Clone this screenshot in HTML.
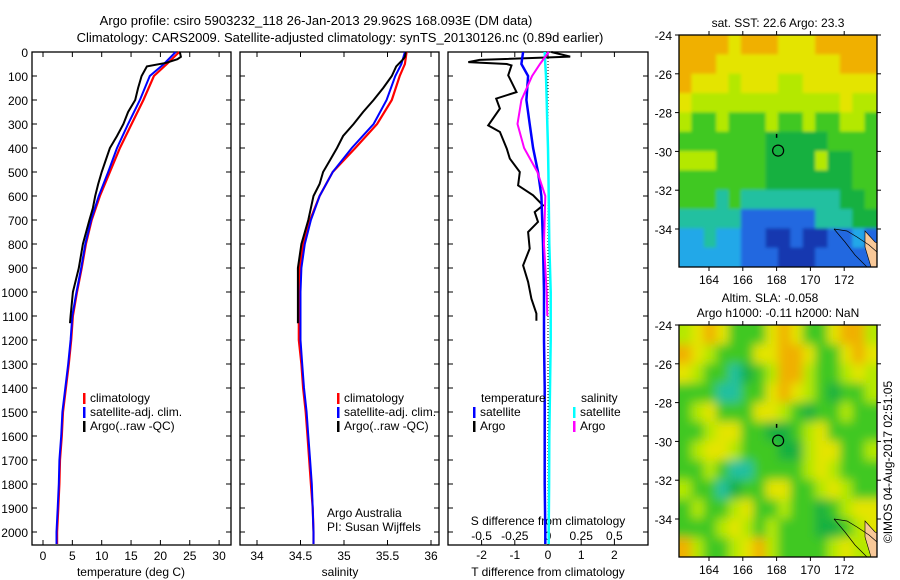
<!DOCTYPE html>
<html><head><meta charset="utf-8">
<style>
html,body{margin:0;padding:0;background:#fff;width:900px;height:580px;overflow:hidden}
svg{display:block;font-family:"Liberation Sans",sans-serif}
</style></head>
<body>
<svg id="c" width="900" height="580" viewBox="0 0 900 580">
<defs>
<filter id="blur" x="-5%" y="-5%" width="110%" height="110%"><feGaussianBlur stdDeviation="5"/></filter>
<filter id="blur2" x="-5%" y="-5%" width="110%" height="110%"><feGaussianBlur stdDeviation="1.5"/></filter>
<clipPath id="clip1"><rect x="679" y="35" width="198" height="232"/></clipPath>
<clipPath id="clip2"><rect x="679" y="325" width="198" height="232"/></clipPath>
</defs>
</svg>
<script>
// ---- data ----
const tDepth=[0,50,100,200,300,400,500,600,700,800,900,1000,1100,1200,1300,1400,1500,1600,1700,1800,1900,2000,2050];
const tClim=[23.2,21.1,18.9,17.1,15.1,13.1,11.4,9.7,8.3,7.3,6.6,5.8,5.1,4.8,4.4,3.9,3.4,3.2,2.9,2.8,2.6,2.4,2.4];
const tSat=[22.6,20.6,18.2,16.5,14.5,12.6,11.1,9.5,8.2,7.2,6.5,5.7,5.0,4.7,4.3,3.8,3.3,3.1,2.8,2.7,2.5,2.3,2.3];
const aDepth=[0,20,30,45,60,100,150,200,250,300,350,400,450,500,550,600,650,700,800,900,1000,1100,1130];
const tArgo=[23.3,23.5,22.9,21.0,17.7,16.8,16.2,15.7,14.5,13.7,12.6,11.4,10.7,10.0,9.4,8.9,8.5,7.9,6.8,6.1,5.1,4.7,4.6];
const sClim=[35.72,35.70,35.64,35.55,35.38,35.13,34.87,34.72,34.61,34.53,34.49,34.49,34.48,34.48,34.51,34.53,34.56,34.58,34.60,34.62,34.64,34.65,34.65];
const sSat=[35.70,35.66,35.59,35.49,35.34,35.09,34.87,34.72,34.62,34.55,34.51,34.50,34.50,34.50,34.52,34.54,34.57,34.59,34.61,34.63,34.64,34.65,34.65];
const sArgo=[35.71,35.70,35.68,35.64,35.60,35.55,35.45,35.34,35.22,35.11,34.99,34.92,34.84,34.76,34.72,34.65,34.62,34.59,34.51,34.47,34.47,34.47,34.47];
const dtDepth=[0,19,33,42,50,56,97,167,194,236,306,333,403,444,500,556,597,639,667,708,750,819,889,958,1028,1090,1120];
const dtArgo=[0.1,0.67,-2.06,-2.4,-1.24,-1.1,-1.2,-0.95,-1.56,-1.45,-1.8,-1.45,-1.24,-1.15,-0.85,-0.9,-0.45,-0.15,-0.4,-0.3,-0.6,-0.55,-0.75,-0.6,-0.5,-0.35,-0.35];
const dDepth=[0,50,100,200,300,400,500,600,800,1000,1200,1400,1600,1800,2000,2050];
const dtSat=[-0.75,-0.8,-0.6,-0.65,-0.55,-0.45,-0.3,-0.2,-0.15,-0.12,-0.12,-0.1,-0.1,-0.1,-0.08,-0.08];
const dsSat=[-0.025,-0.02,-0.015,-0.01,-0.005,0,0.003,0.005,0.01,0.02,0.02,0.015,0.01,0.008,0.005,0.005];
const dsArgo=[0.005,-0.06,-0.12,-0.2,-0.23,-0.18,-0.08,-0.02,-0.03,-0.01,-0.005];
const dsDepth=[0,50,100,200,300,400,500,600,800,1000,1100];
const depthTicks=[0,100,200,300,400,500,600,700,800,900,1000,1100,1200,1300,1400,1500,1600,1700,1800,1900,2000];
const tTicks=[0,5,10,15,20,25,30];
const sTicks=[34,34.5,35,35.5,36];
const dTicks=[-2,-1,0,1,2];
const sdTickLabels=["-0.5","-0.25","0","0.25","0.5"];
const latTicks=[-24,-26,-28,-30,-32,-34];
const lonTicks=[164,166,168,170,172];
const sstGrid=["OOOOYOOOYYYOOOOO","OOOYYYYYYYYYYOOO","OYYYLYYYLLYYYYYY","YLLLLLLLLLLLLYLL","LGGLGGGLGGLGGLLG","GGGGGGGDDDDDGGGG","LLLGGGGDDDDLDDGG","GGGGGGGDDDDDDDGG","GGGTGTTTTTTTTDDG","TTTTTBBBBBBTTTDD","CCTCCBBNNBNNBBCB","CCCCCBBBNNNBBBBB"];
const slaGrid=["LYOYGGGYOYGGYOOL","OYLGGGYYOOYGGYOY","YLGGTDGLOOLGGLYL","GGGTTGGYOYLGDGGL","GLYGGGYYLGDGGLGG","GGLYYGGDDGLYGGGG","GLYYLGGGDDLYYGGL","GGLGTTGGGGLYLGGG","LGGTDGGYYGGLYLGG","GLGGLYGGLGGDGLYY","GGGLYLGLGGGDDGLY","OLGGLYOLGGGGLYLL"];
const pal={O:"#f0b000",Y:"#e4e400",L:"#b4e800",G:"#40c820",D:"#18b040",T:"#20c0a0",C:"#20a8e8",B:"#2068e0",N:"#1438b0"};
// ---- helpers ----
const NS="http://www.w3.org/2000/svg", svg=document.getElementById('c');
function mk(t,a,p){const e=document.createElementNS(NS,t);for(const k in a)e.setAttribute(k,a[k]);(p||svg).appendChild(e);return e;}
function txt(x,y,s,anchor,size){const e=mk('text',{x:x,y:y,'font-size':size||12,'text-anchor':anchor||'middle',fill:'#000'});e.textContent=s;return e;}
const Y0=52,Y1=545; const yD=d=>52+d*0.24;
const xT=v=>43+v*5.87, xS=v=>257+(v-34)*87, xD=v=>548+v*33.2, xSD=v=>548+v*4*33.2;
function poly(xs,ds,fx,col,w,name){const pts=xs.map((v,i)=>fx(v).toFixed(1)+','+yD(ds[i]).toFixed(1)).join(' ');
 const e=mk('polyline',{points:pts,fill:'none',stroke:col,'stroke-width':w});
 
 }
// titles
let t=txt(316,25,"Argo profile: csiro 5903232_118 26-Jan-2013 29.962S 168.093E (DM data)",'middle',13);

t=txt(340,42,"Climatology: CARS2009. Satellite-adjusted climatology: synTS_20130126.nc (0.89d earlier)",'middle',13);

// panels
function panel(x0,x1,name){const g=mk('rect',{x:x0,y:Y0,width:x1-x0,height:Y1-Y0,fill:'none',stroke:'#000','stroke-width':1.3});
 
 depthTicks.forEach(d=>{mk('line',{x1:x0,x2:x0+5,y1:yD(d),y2:yD(d),stroke:'#000'});mk('line',{x1:x1-5,x2:x1,y1:yD(d),y2:yD(d),stroke:'#000'});});}
panel(32,231,'temperature-panel');panel(240,439,'salinity-panel');panel(448,648,'difference-panel');
depthTicks.forEach(d=>{const e=txt(28,yD(d)+5,String(d),'end',12);});
function xticks(vals,fx,labels,ly){vals.forEach((v,i)=>{const x=fx(v);mk('line',{x1:x,x2:x,y1:Y1,y2:Y1-5,stroke:'#000'});mk('line',{x1:x,x2:x,y1:Y0,y2:Y0+5,stroke:'#000'});
 const e=txt(x,ly,labels?labels[i]:String(v));});}
xticks(tTicks,xT,null,560);xticks(sTicks,xS,null,560);xticks(dTicks,xD,null,559);
dTicks.forEach((v,i)=>{const e=txt(xD(v),540,sdTickLabels[i]);});
t=txt(131,576,"temperature (deg C)");
t=txt(340,576,"salinity");
t=txt(548,576,"T difference from climatology");
t=txt(548,525,"S difference from climatology");
mk('line',{x1:548,x2:548,y1:Y0,y2:Y1,stroke:'#000','stroke-dasharray':'1,2'});
// series
poly(tClim,tDepth,xT,'#f00',2.2,'temp-climatology-line');
poly(tSat,tDepth,xT,'#00f',2,'temp-satellite-line');
poly(tArgo,aDepth,xT,'#000',2,'temp-argo-line');
poly(sClim,tDepth,xS,'#f00',2.2,'sal-climatology-line');
poly(sSat,tDepth,xS,'#00f',2,'sal-satellite-line');
poly(sArgo,aDepth,xS,'#000',2,'sal-argo-line');
poly(dtArgo,dtDepth,xD,'#000',2,'tdiff-argo-line');
poly(dtSat,dDepth,xD,'#00f',2.5,'tdiff-satellite-line');
poly(dsSat,dDepth,xSD,'#0ff',2.5,'sdiff-satellite-line');
poly(dsArgo,dsDepth,xSD,'#f0f',2,'sdiff-argo-line');
// legends
function leg(x,y,col,s,name){mk('rect',{x:x,y:y-9,width:2.5,height:11,fill:col});const e=txt(x+7,y,s,'start',12);}
leg(83,402,'#f00','climatology','legend-climatology');leg(83,416,'#00f','satellite-adj. clim.','legend-satellite-adj');leg(83,430,'#000','Argo(..raw -QC)','legend-argo');
leg(337,402,'#f00','climatology','legend2-climatology');leg(337,416,'#00f','satellite-adj. clim.','legend2-satellite-adj');leg(337,430,'#000','Argo(..raw -QC)','legend2-argo');
t=txt(481,402,'temperature','start');
t=txt(581,402,'salinity','start');
leg(473,416,'#00f','satellite','legend-t-satellite');leg(473,430,'#000','Argo','legend-t-argo');
leg(573,416,'#0ff','satellite','legend-s-satellite');leg(573,430,'#f0f','Argo','legend-s-argo');
t=txt(327,517,'Argo Australia','start');
t=txt(327,531,'PI: Susan Wijffels','start');
// maps
const xL=v=>709+(v-164)*16.9;
function map(top,grid,name,title1,title2,clip,filt){
 const yL=v=>top+(-24-v)*19.4; const x0=679,x1=877,bot=top+232;
 const outer=mk('g',{'clip-path':'url(#'+clip+')'});
 const g=mk('g',{filter:'url(#'+filt+')'},outer);
 const rows=grid.length,cols=grid[0].length,cw=(x1-x0)/cols,ch=(bot-top)/rows;
 grid.forEach((r,i)=>{for(let j=0;j<cols;j++){
   const ex=(j==0?-12:0),ey=(i==0?-12:0);
   mk('rect',{x:x0+j*cw+ex,y:top+i*ch+ey,width:cw+0.6-ex+(j==cols-1?12:0),height:ch+0.6-ey+(i==rows-1?12:0),fill:pal[r[j]]},g);}});
 mk('path',{d:`M${x1-12} ${bot-36} L${x1-2} ${bot-25} L${x1} ${bot-24} L${x1} ${bot} L${x1-6} ${bot} L${x1-12} ${bot-20} Z`,fill:'#f8c898',stroke:'#000','stroke-width':0.6});
 mk('path',{d:`M${x1-43} ${bot-38} L${x1-30} ${bot-36} L${x1-20} ${bot-30} L${x1-8} ${bot-22} L${x1} ${bot-15} M${x1-43} ${bot-38} L${x1-32} ${bot-25} L${x1-22} ${bot-12} L${x1-10} ${bot}`,fill:'none',stroke:'#000','stroke-width':0.7});
 mk('rect',{x:x0,y:top,width:x1-x0,height:bot-top,fill:'none',stroke:'#000','stroke-width':1.3});
 const c=mk('circle',{cx:xL(168.09),cy:yL(-29.96),r:5.5,fill:'none',stroke:'#000','stroke-width':1.2});
 mk('line',{x1:xL(168),x2:xL(168),y1:yL(-29.1),y2:yL(-29.3),stroke:'#000','stroke-width':1.5});
 latTicks.forEach(v=>{mk('line',{x1:x1,x2:x1+4,y1:yL(v),y2:yL(v),stroke:'#000'});mk('line',{x1:x0-4,x2:x0,y1:yL(v),y2:yL(v),stroke:'#000'});
  const e=txt(672,yL(v)+5,String(v),'end');});
 lonTicks.forEach(v=>{mk('line',{x1:xL(v),x2:xL(v),y1:top-4,y2:top,stroke:'#000'});mk('line',{x1:xL(v),x2:xL(v),y1:bot,y2:bot+4,stroke:'#000'});
  const e=txt(xL(v),bot+17,String(v));});
 let e=txt(778,top-8,title1);
 if(title2){e=txt(770,top-23,title2);}
}
map(35,sstGrid,'sst-map','sat. SST: 22.6 Argo: 23.3',null,'clip1','blur2');
map(325,slaGrid,'sla-map','Argo h1000: -0.11 h2000: NaN','Altim. SLA: -0.058','clip2','blur');
t=txt(0,0,'©IMOS 04-Aug-2017 02:51:05','middle',12);t.setAttribute('transform','translate(892,462) rotate(-90)');

</script>
</body></html>
